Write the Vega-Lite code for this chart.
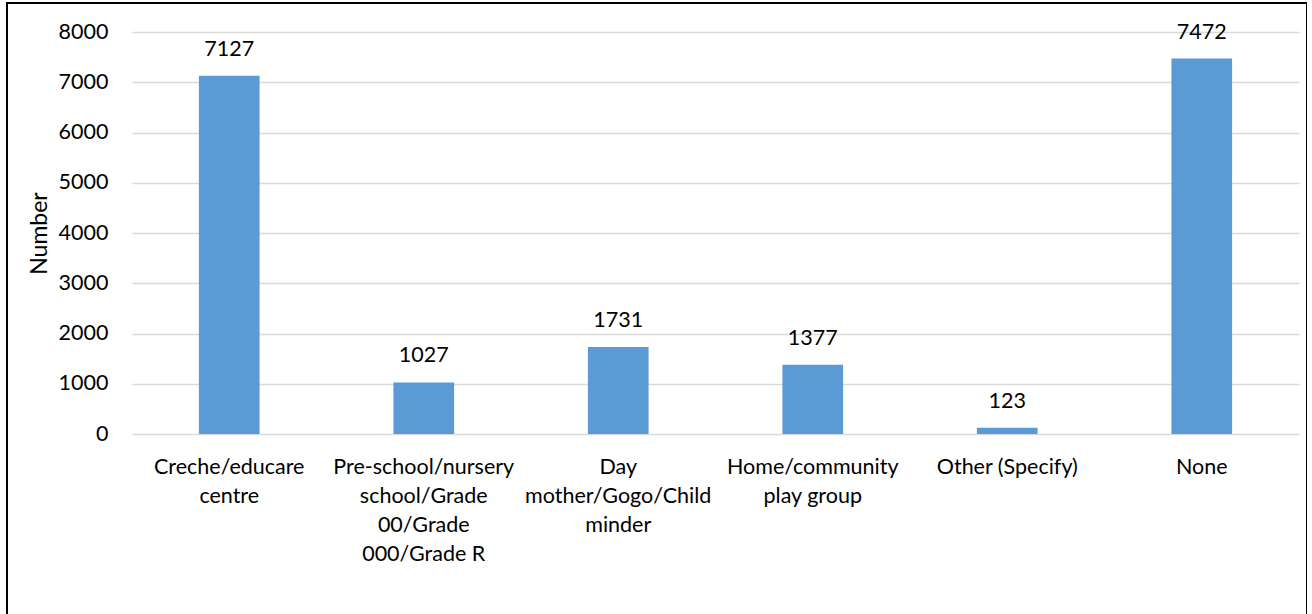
{
  "$schema": "https://vega.github.io/schema/vega-lite/v6.json",
  "autosize": "none",
  "padding": {"left": 7, "top": 3, "right": 0, "bottom": 0},
  "width": 1300,
  "height": 620,
  "config": {
    "view": {"stroke": "#000000", "strokeWidth": 2},
    "font": "Lato",
    "axis": {"labelFont": "Lato", "titleFont": "Lato", "labelColor": "#000000", "titleColor": "#000000"}
  },
  "data": {
    "values": [
      {"category": "Creche/educare centre", "value": 7127},
      {"category": "Pre-school/nursery school/Grade 00/Grade 000/Grade R", "value": 1027},
      {"category": "Day mother/Gogo/Child minder", "value": 1731},
      {"category": "Home/community play group", "value": 1377},
      {"category": "Other (Specify)", "value": 123},
      {"category": "None", "value": 7472}
    ]
  },
  "encoding": {
    "x": {
      "field": "category",
      "type": "nominal",
      "sort": null,
      "scale": {"range": [125, 1292], "paddingInner": 0.688, "paddingOuter": 0.344, "round": false},
      "axis": {
        "title": null,
        "orient": "bottom",
        "offset": -189,
        "domain": false,
        "ticks": false,
        "labelAngle": 0,
        "labelBaseline": "top",
        "labelPadding": 22,
        "labelFontSize": 21.5,
        "labelLineHeight": 29,
        "labelLimit": 400,
        "labelOverlap": false,
        "labelExpr": "datum.label == 'Creche/educare centre' ? ['Creche/educare', 'centre'] : datum.label == 'Pre-school/nursery school/Grade 00/Grade 000/Grade R' ? ['Pre-school/nursery', 'school/Grade', '00/Grade', '000/Grade R'] : datum.label == 'Day mother/Gogo/Child minder' ? ['Day', 'mother/Gogo/Child', 'minder'] : datum.label == 'Home/community play group' ? ['Home/community', 'play group'] : datum.label"
      }
    },
    "y": {
      "field": "value",
      "type": "quantitative",
      "scale": {"domain": [0, 8000], "range": [431, 29], "nice": false, "zero": true},
      "axis": {
        "title": "Number",
        "orient": "left",
        "offset": -125,
        "values": [0, 1000, 2000, 3000, 4000, 5000, 6000, 7000, 8000],
        "format": "d",
        "domain": false,
        "ticks": false,
        "grid": true,
        "gridColor": "#d9d9d9",
        "gridWidth": 1.5,
        "labelFontSize": 21.5,
        "labelPadding": 24,
        "titleFontSize": 23,
        "titleFontWeight": "normal",
        "titlePadding": 7
      }
    }
  },
  "layer": [
    {"mark": {"type": "bar", "color": "#5b9bd5"}},
    {
      "mark": {"type": "text", "baseline": "alphabetic", "dy": -20, "fontSize": 21.5, "color": "#000000", "font": "Lato"},
      "encoding": {"text": {"field": "value", "type": "quantitative", "format": "d"}}
    }
  ]
}
